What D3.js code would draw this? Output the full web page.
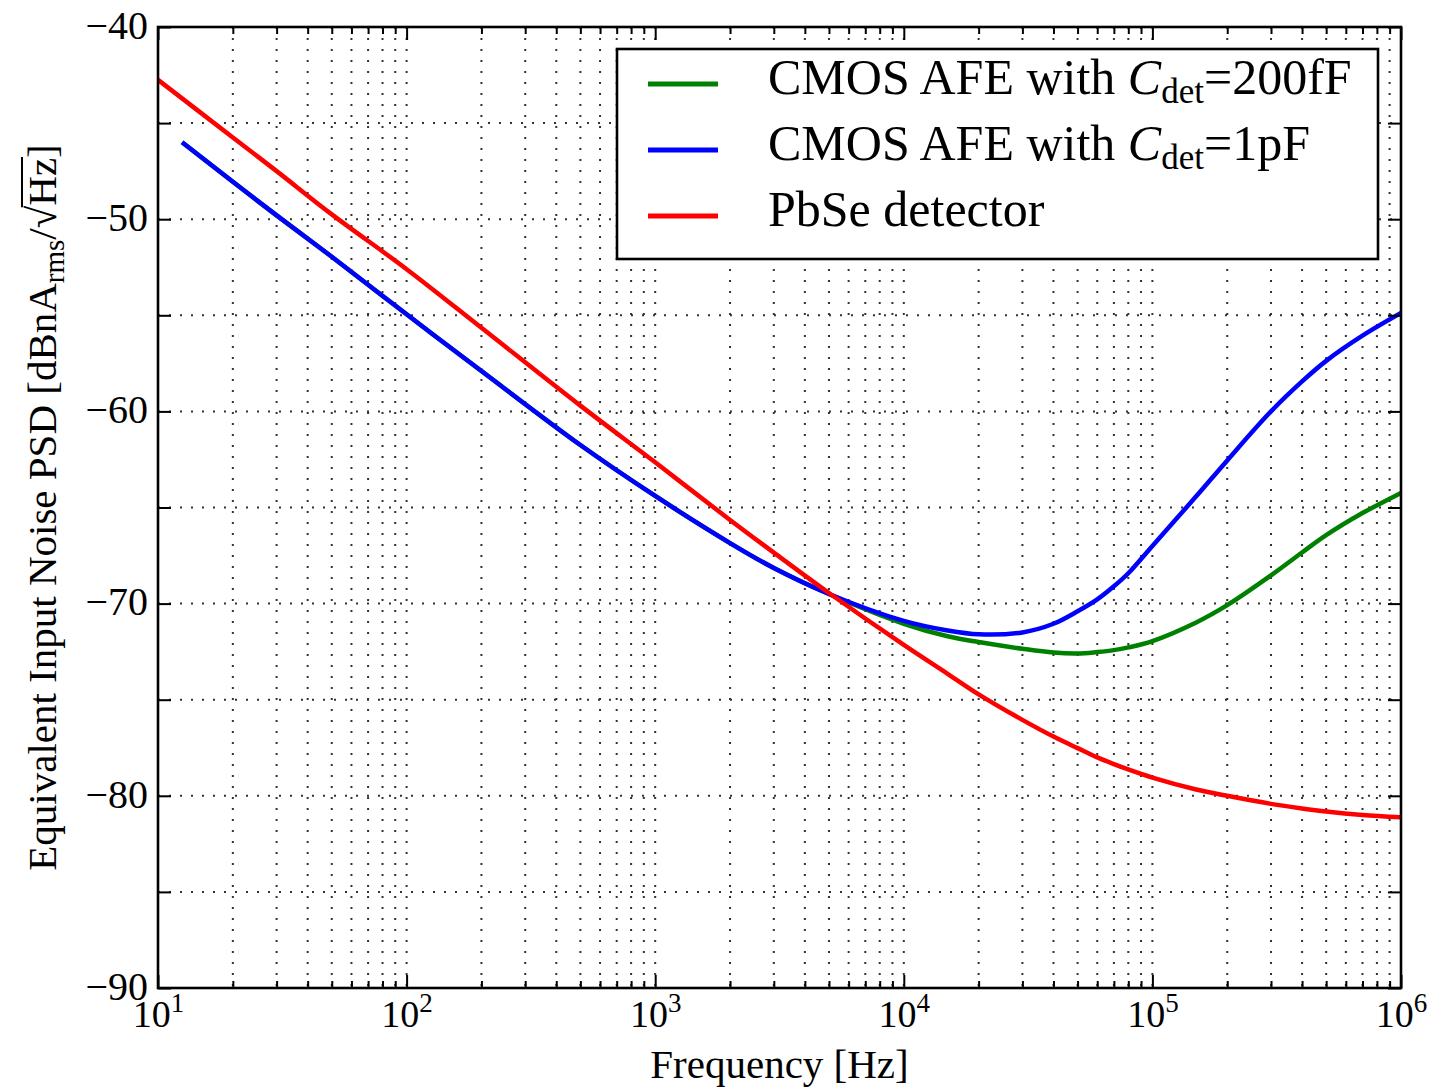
<!DOCTYPE html>
<html>
<head>
<meta charset="utf-8">
<script src="https://cdn.jsdelivr.net/npm/d3@7"></script>
<style>
  body { margin: 0; background: #fff; }
  text { font-family: "Liberation Serif", "Times New Roman", serif; fill: #000; }
</style>
</head>
<body>
<script>
// frequencies in Hz, noise in dB
var redFreq = [10, 20, 30, 50, 100, 200, 500, 1000, 2000, 3000, 5000, 1e4, 1.5e4, 2e4, 3e4, 4e4,
  5e4, 6e4, 7e4, 8e4, 1e5, 1.5e5, 2e5, 3e5, 4e5, 5e5, 7e5, 1e6];
var redDb = [-42.75, -45.75, -47.5, -49.75, -52.6, -55.65, -59.7, -62.65, -65.65, -67.35, -69.45,
  -72.15, -73.65, -74.72, -76.05, -76.92, -77.52, -78.0, -78.35, -78.63, -79.05, -79.67, -80.0,
  -80.42, -80.66, -80.82, -81.0, -81.12];

var afeFreq = [12.5, 20, 30, 50, 100, 200, 500, 1000, 2000, 3000, 5000, 1e4, 1.5e4, 2e4, 3e4, 4e4,
  5e4, 6e4, 7e4, 8e4, 1e5, 1.5e5, 2e5, 3e5, 4e5, 5e5, 7e5, 1e6];
var blueDb = [-46.0, -48.05, -49.8, -51.95, -54.95, -57.9, -61.75, -64.4, -66.85, -68.15, -69.5,
  -70.9, -71.4, -71.6, -71.5, -71.05, -70.4, -69.78, -69.1, -68.42, -67.0, -64.42, -62.55, -60.0,
  -58.44, -57.37, -56.06, -54.88];
var greenDb = [-46.0, -48.05, -49.8, -51.95, -54.95, -57.9, -61.75, -64.4, -66.85, -68.15, -69.5,
  -71.05, -71.7, -72.0, -72.35, -72.55, -72.6, -72.52, -72.42, -72.28, -71.95, -70.98, -70.08,
  -68.53, -67.34, -66.44, -65.29, -64.24];

var xMajor = [10, 100, 1000, 1e4, 1e5, 1e6];
var yMajor = [-90, -80, -70, -60, -50, -40];
var yGrid = [-85, -75, -65, -55, -45];

var legendNames = [
  { pre: "CMOS AFE with ", sub: "det", post: "=200fF", color: "#008000" },
  { pre: "CMOS AFE with ", sub: "det", post: "=1pF", color: "#0000ff" },
  { pre: "PbSe detector", sub: null, post: "", color: "#ff0000" }
];

var W = 1439, H = 1087;
var pLeft = 158, pRight = 1401, pTop = 27, pBottom = 988;

var xMinor = [];
for (var d = 10; d < 1e6; d *= 10) {
  for (var k = 2; k <= 9; k++) xMinor.push(d * k);
}

var x = d3.scaleLog().domain([10, 1e6]).range([pLeft, pRight]);
var y = d3.scaleLinear().domain([-90, -40]).range([pBottom, pTop]);

var svg = d3.select("body").append("svg")
  .attr("width", W)
  .attr("height", H);

svg.append("defs").append("clipPath").attr("id", "plotclip")
  .append("rect")
  .attr("x", pLeft).attr("y", pTop)
  .attr("width", pRight - pLeft).attr("height", pBottom - pTop);

// dotted grid
var grid = svg.append("g")
  .attr("stroke", "#333")
  .attr("stroke-width", 2)
  .attr("stroke-dasharray", "2,9");
grid.selectAll(".vg")
  .data(xMajor.concat(xMinor))
  .enter().append("line")
  .attr("x1", function(d) { return x(d); })
  .attr("x2", function(d) { return x(d); })
  .attr("y1", pTop).attr("y2", pBottom);
grid.selectAll(".hg")
  .data(yMajor.concat(yGrid))
  .enter().append("line")
  .attr("x1", pLeft).attr("x2", pRight)
  .attr("y1", function(d) { return y(d); })
  .attr("y2", function(d) { return y(d); });

// curves
var line = d3.line()
  .x(function(d) { return x(d[0]); })
  .y(function(d) { return y(d[1]); })
  .curve(d3.curveCatmullRom.alpha(0.5));

var series = [
  { f: afeFreq, v: greenDb, color: "#008000" },
  { f: afeFreq, v: blueDb, color: "#0000ff" },
  { f: redFreq, v: redDb, color: "#ff0000" }
];

var curves = svg.append("g").attr("clip-path", "url(#plotclip)");
series.forEach(function(s) {
  var pts = s.f.map(function(f, i) { return [f, s.v[i]]; });
  curves.append("path")
    .datum(pts)
    .attr("d", line)
    .attr("fill", "none")
    .attr("stroke", s.color)
    .attr("stroke-width", 4.5);
});

// axes with inward ticks
var xBottom = svg.append("g")
  .attr("transform", "translate(0," + pBottom + ")")
  .call(d3.axisBottom(x).tickValues(xMajor).tickSizeInner(-13).tickSizeOuter(0));
xBottom.selectAll(".tick text").remove();
xBottom.selectAll(".tick").append("text")
  .attr("y", 39)
  .attr("text-anchor", "middle")
  .attr("font-size", 38)
  .each(function(d) {
    var t = d3.select(this);
    t.append("tspan").text("10");
    t.append("tspan").attr("dy", -15).attr("font-size", 27).text(Math.round(Math.log10(d)));
  });

svg.append("g")
  .attr("transform", "translate(0," + pBottom + ")")
  .call(d3.axisBottom(x).tickValues(xMinor).tickSizeInner(-7).tickSizeOuter(0).tickFormat(""));
svg.append("g")
  .attr("transform", "translate(0," + pTop + ")")
  .call(d3.axisTop(x).tickValues(xMajor).tickSizeInner(-13).tickSizeOuter(0).tickFormat(""));
svg.append("g")
  .attr("transform", "translate(0," + pTop + ")")
  .call(d3.axisTop(x).tickValues(xMinor).tickSizeInner(-7).tickSizeOuter(0).tickFormat(""));

var yLeft = svg.append("g")
  .attr("transform", "translate(" + pLeft + ",0)")
  .call(d3.axisLeft(y).tickValues(yMajor.concat(yGrid)).tickSizeInner(-13).tickSizeOuter(0)
    .tickFormat(function(d) { return d % 10 === 0 ? d3.format("d")(d) : ""; }));
yLeft.selectAll(".tick text")
  .attr("x", -10)
  .attr("dy", "0.28em")
  .attr("font-size", 40);

svg.append("g")
  .attr("transform", "translate(" + pRight + ",0)")
  .call(d3.axisRight(y).tickValues(yMajor.concat(yGrid)).tickSizeInner(-13).tickSizeOuter(0).tickFormat(""));

svg.selectAll(".domain").remove();
svg.selectAll(".tick line").attr("stroke", "#000").attr("stroke-width", 2);
svg.selectAll(".tick text").attr("font-family", null);

// frame
svg.append("rect")
  .attr("x", pLeft).attr("y", pTop)
  .attr("width", pRight - pLeft).attr("height", pBottom - pTop)
  .attr("fill", "none")
  .attr("stroke", "#000")
  .attr("stroke-width", 2.6);

// axis titles
svg.append("text")
  .attr("x", (pLeft + pRight) / 2)
  .attr("y", 1078)
  .attr("text-anchor", "middle")
  .attr("font-size", 41)
  .text("Frequency [Hz]");

var ylabG = svg.append("g")
  .attr("transform", "translate(56," + (pTop + pBottom) / 2 + ") rotate(-90)");
var ylab = ylabG.append("text")
  .attr("text-anchor", "middle")
  .attr("font-size", 41);
ylab.append("tspan").text("Equivalent Input Noise PSD [dBnA");
ylab.append("tspan").attr("dy", 8).attr("font-size", 29).text("rms");
ylab.append("tspan").attr("dy", -8).text("/√");
ylab.append("tspan").text("Hz");
ylab.append("tspan").text("]");

// bar of the square root over "Hz"
var yn = ylab.node();
var sqIdx = "Equivalent Input Noise PSD [dBnA".length + 3 + 1;
var barX1 = yn.getEndPositionOfChar(sqIdx).x - 1.5;
var barX2 = yn.getEndPositionOfChar(sqIdx + 2).x + 1;
ylabG.append("line")
  .attr("x1", barX1).attr("x2", barX2)
  .attr("y1", -34).attr("y2", -34)
  .attr("stroke", "#000")
  .attr("stroke-width", 2);

// legend
var lg = svg.append("g");
lg.append("rect")
  .attr("x", 617).attr("y", 49)
  .attr("width", 761).attr("height", 210)
  .attr("fill", "#fff")
  .attr("stroke", "#000")
  .attr("stroke-width", 2.6);

var rows = lg.selectAll(".row")
  .data(legendNames)
  .enter().append("g")
  .attr("transform", function(d, i) { return "translate(0," + (94 + i * 66) + ")"; });
rows.append("line")
  .attr("x1", 648).attr("x2", 718)
  .attr("y1", -10).attr("y2", -10)
  .attr("stroke", function(d) { return d.color; })
  .attr("stroke-width", 5);
rows.append("text")
  .attr("x", 768)
  .attr("font-size", 50)
  .each(function(d) {
    var t = d3.select(this);
    t.append("tspan").text(d.pre);
    if (d.sub) {
      t.append("tspan").attr("font-style", "italic").text("C");
      t.append("tspan").attr("dy", 9).attr("font-size", 35).text(d.sub);
      t.append("tspan").attr("dy", -9).text(d.post);
    }
  });
</script>
</body>
</html>
